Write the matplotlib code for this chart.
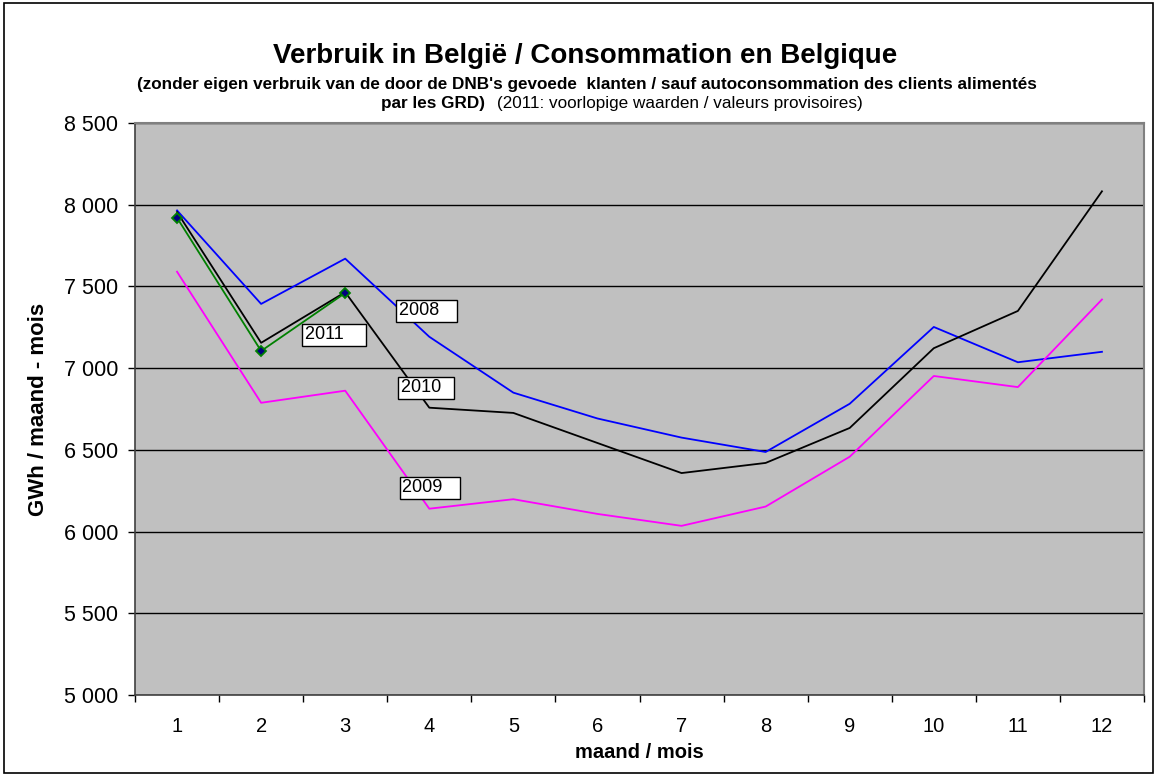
import matplotlib
matplotlib.use("Agg")
import matplotlib.pyplot as plt
from matplotlib.patches import Rectangle

plt.rcParams['font.family'] = ['Liberation Sans', 'DejaVu Sans']

# data (GWh per month)
months = [1, 2, 3, 4, 5, 6, 7, 8, 9, 10, 11, 12]
cons_2008 = [7965, 7393, 7670, 7192, 6850, 6692, 6575, 6487, 6782, 7252, 7036, 7100]
cons_2009 = [7590, 6788, 6862, 6140, 6198, 6108, 6035, 6153, 6458, 6952, 6884, 7420]
cons_2010 = [7955, 7155, 7465, 6758, 6726, 6542, 6358, 6420, 6634, 7122, 7350, 8082]
cons_2011 = [7920, 7105, 7460]
months_2011 = [1, 2, 3]

yticks = [5000, 5500, 6000, 6500, 7000, 7500, 8000, 8500]
ytick_labels = ['5 000', '5 500', '6 000', '6 500', '7 000', '7 500', '8 000', '8 500']

# label anchor (x, y) in data units, with text
labels = [
    (3.64, 7350, '2008'),
    (2.52, 7203, '2011'),
    (3.66, 6879, '2010'),
    (3.68, 6267, '2009'),
]
# trailing blank space inside each label box (Excel auto-size)
box_fill = {'2008': 3, '2011': 4, '2010': 2, '2009': 3}

fig = plt.figure(figsize=(11.56, 7.75), dpi=100)
ax = fig.add_axes([135 / 1156, 1 - 695 / 775, 1009 / 1156, 572 / 775])
ax.set_facecolor('#C0C0C0')

ax.plot(months, cons_2008, color='#0000FF', lw=1.3, zorder=3)
ax.plot(months, cons_2009, color='#FF00FF', lw=1.3, zorder=3)
ax.plot(months, cons_2010, color='black', lw=1.3, zorder=3)
ax.plot(months_2011, cons_2011, color='#008000', lw=1.3, zorder=4,
        marker='D', markersize=5.5, markerfacecolor='#000080',
        markeredgecolor='#008000', markeredgewidth=1.3)

for x, y, t in labels:
    ax.text(x, y, t + ' ' * box_fill[t], fontsize=13, ha='left', va='center', zorder=5,
            bbox=dict(boxstyle='square,pad=0.15', facecolor='white',
                      edgecolor='black', linewidth=1))

ax.set_xlim(0.5, 12.5)
ax.set_ylim(5000, 8500)
ax.set_yticks(yticks)
ax.set_yticklabels(ytick_labels, fontsize=15.5)
ax.set_xticks(months)
ax.set_xticklabels([str(m) for m in months], fontsize=14.5)
ax.tick_params(axis='x', length=0, pad=16)
ax.set_xticks([m + 0.5 for m in [0] + months], minor=True)
ax.tick_params(axis='x', which='minor', length=5, width=1, color='black', direction='out')
ax.tick_params(axis='y', length=5, width=1, direction='out', pad=7)

ax.grid(axis='y', color='black', lw=1, zorder=1)
ax.set_axisbelow(True)
for s in ['top', 'right']:
    ax.spines[s].set_color('#808080')
    ax.spines[s].set_linewidth(1.5)
for s in ['left', 'bottom']:
    ax.spines[s].set_color('#404040')
    ax.spines[s].set_linewidth(1.2)

ax.set_ylabel('GWh / maand - mois', fontsize=16, fontweight='bold', labelpad=11)
ax.set_xlabel('maand / mois', fontsize=14.5, fontweight='bold', labelpad=5)

fig.text(585 / 1156, 1 - 63 / 775, 'Verbruik in België / Consommation en Belgique',
         ha='center', va='baseline', fontsize=20, fontweight='bold')
fig.text(587 / 1156, 1 - 89 / 775,
         "(zonder eigen verbruik van de door de DNB's gevoede  klanten / sauf autoconsommation des clients alimentés",
         ha='center', va='baseline', fontsize=12.3, fontweight='bold')
fig.text(485 / 1156, 1 - 108 / 775, 'par les GRD)', ha='right', va='baseline',
         fontsize=12.3, fontweight='bold')
fig.text(497 / 1156, 1 - 108 / 775, '(2011: voorlopige waarden / valeurs provisoires)',
         ha='left', va='baseline', fontsize=12.3)

fig.patches.append(Rectangle((4 / 1156, 2 / 775), 1149 / 1156, 770 / 775,
                             transform=fig.transFigure, fill=False,
                             edgecolor='black', linewidth=1.2))

fig.savefig('out.png', dpi=100, facecolor='white')
